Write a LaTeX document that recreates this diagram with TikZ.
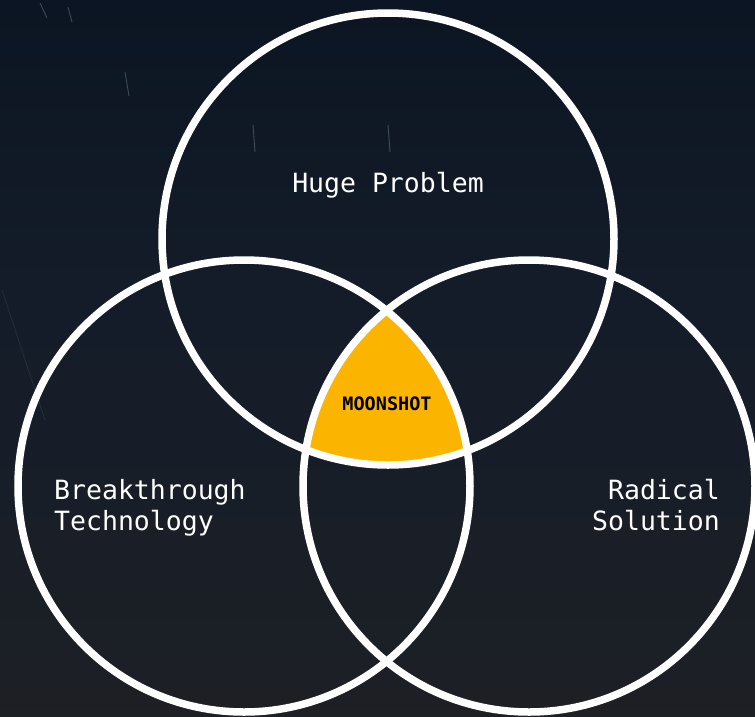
\documentclass[tikz,border=0pt]{standalone}
\usepackage{fontspec}
\setmonofont{DejaVu Sans Mono}
\usepackage{xcolor}
\usepackage{tikz}
\definecolor{moongold}{HTML}{FBB400}
\definecolor{sky0}{RGB}{46,37,32}
\definecolor{sky1}{RGB}{36,33,33}
\definecolor{sky2}{RGB}{27,31,38}
\definecolor{sky3}{RGB}{20,28,41}
\definecolor{sky4}{RGB}{10,19,33}
\definecolor{sky5}{RGB}{5,11,24}
\pgfdeclareverticalshading{nightsky}{100bp}{%
  color(0bp)=(sky0); color(12bp)=(sky1); color(30bp)=(sky2);
  color(55bp)=(sky3); color(80bp)=(sky4); color(100bp)=(sky5)}
\tikzset{
  ring/.style={circle,draw=white,line width=7.5pt,minimum size=452pt,inner sep=0pt},
  caption/.style={text=white,inner sep=0pt,font=\ttfamily\fontsize{26.5}{31}\selectfont},
  streak/.style={white!80!cyan,opacity=0.25,line width=0.9pt}
}

\begin{document}
\begin{tikzpicture}[x=1pt,y=-1pt]
  % sky
  \shade[shading=nightsky] (0,0) rectangle (755,716);
  \useasboundingbox (0,0) rectangle (755,716);
  \draw[streak] (40,3) -- (47,18);
  \draw[streak] (68,7) -- (72,22);
  \draw[streak] (125,72) -- (129,96);
  \draw[streak] (253,125) -- (255,152);
  \draw[streak] (388,125) -- (390,152);
  \draw[streak,opacity=0.08] (2,290) -- (45,420);
  % the three sets
  \coordinate (problem c) at (388,239);
  \coordinate (tech c) at (244,486);
  \coordinate (solution c) at (529,486);
  \begin{scope}
    \clip (problem c) circle[radius=226pt];
    \clip (tech c) circle[radius=226pt];
    \fill[moongold] (solution c) circle[radius=226pt];
  \end{scope}
  \node[ring] (problem) at (problem c) {};
  \node[ring] (tech) at (tech c) {};
  \node[ring] (solution) at (solution c) {};
  % labels
  \node[caption,anchor=base] (problem label) at (388,192) {Huge Problem};
  \node[caption,anchor=north west,align=left] (tech label) at (54,479) {Breakthrough\\Technology};
  \node[caption,anchor=north east,align=right] (solution label) at (720,479) {Radical\\Solution};
  \node[inner sep=0pt,anchor=base,font=\ttfamily\bfseries\fontsize{18.5}{22}\selectfont] (moonshot) at (387,410) {MOONSHOT};
\end{tikzpicture}
\end{document}
